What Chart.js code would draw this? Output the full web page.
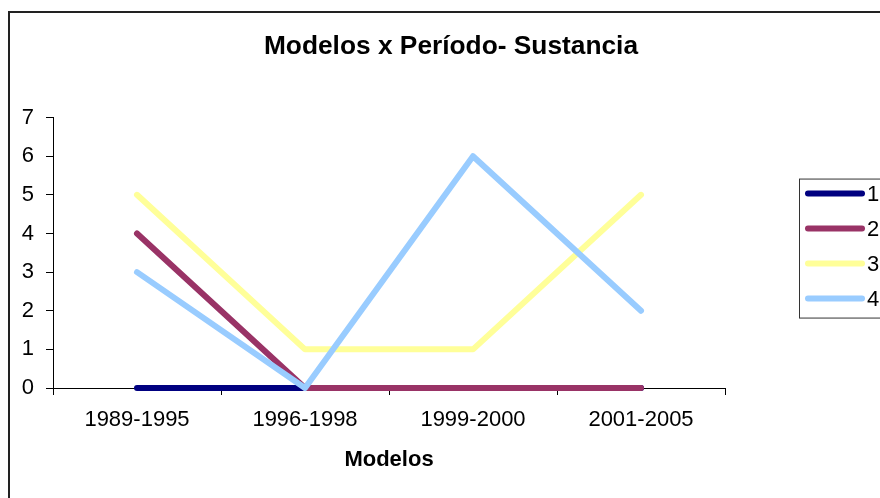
<!DOCTYPE html>
<html>
<head>
<meta charset="utf-8">
<script src="https://cdn.jsdelivr.net/npm/chart.js@4/dist/chart.umd.min.js"></script>
<style>
  body { margin: 0; background: #fff; }
  canvas { display: block; }
</style>
</head>
<body>
<canvas id="chart" width="880" height="498"></canvas>
<script>
const periodos = ['1989-1995', '1996-1998', '1999-2000', '2001-2005'];
const serieNames = ['1', '2', '3', '4'];
const serie1 = [0, 0, 0, 0];
const serie2 = [4, 0, 0, 0];
const serie3 = [5, 1, 1, 5];
const serie4 = [3, 0, 6, 2];
const serieColors = ['#000080', '#993366', '#FFFF99', '#99CCFF'];

const FONT = 'Arial, "Liberation Sans", sans-serif';

// outer frame of the chart (excel style)
let framePlugin = {
  id: 'frame',
  beforeDraw: function(chart) {
    const ctx = chart.ctx;
    ctx.save();
    ctx.strokeStyle = '#222';
    ctx.lineWidth = 2;
    ctx.strokeRect(9, 12, 1000, 1000);
    ctx.restore();
  }
};

// boxed legend on the right, drawn from the datasets
let boxLegend = {
  id: 'boxLegend',
  afterDraw: function(chart) {
    const ctx = chart.ctx;
    const area = chart.chartArea;
    const left = area.right + 74;
    const top = area.top + 61;
    const step = 35;
    const sets = chart.data.datasets;
    ctx.save();
    ctx.strokeStyle = '#333';
    ctx.lineWidth = 1;
    ctx.strokeRect(left + 0.5, top + 0.5, 200, sets.length * step - 1);
    ctx.font = '22px ' + FONT;
    ctx.textBaseline = 'middle';
    ctx.fillStyle = '#000';
    sets.forEach((ds, i) => {
      const y = top + 15 + i * step;
      ctx.strokeStyle = ds.borderColor;
      ctx.lineWidth = 6;
      ctx.lineCap = 'round';
      ctx.beginPath();
      ctx.moveTo(left + 9, y);
      ctx.lineTo(left + 63, y);
      ctx.stroke();
      ctx.fillText(ds.label, left + 68, y + 1);
    });
    ctx.restore();
  }
};

let makeSet = function(label, values, color, order) {
  return {
    label: label,
    data: values,
    borderColor: color,
    backgroundColor: color,
    borderWidth: 6,
    borderCapStyle: 'round',
    borderJoinStyle: 'round',
    pointRadius: 0,
    pointHoverRadius: 0,
    tension: 0,
    fill: false,
    clip: 8,
    order: order
  };
};

const config = {
  type: 'line',
  data: {
    labels: periodos,
    datasets: [
      makeSet(serieNames[0], serie1, serieColors[0], 4),
      makeSet(serieNames[1], serie2, serieColors[1], 3),
      makeSet(serieNames[2], serie3, serieColors[2], 2),
      makeSet(serieNames[3], serie4, serieColors[3], 1)
    ]
  },
  options: {
    responsive: false,
    animation: false,
    devicePixelRatio: 1,
    layout: { padding: { left: 22, right: 0, top: 0, bottom: 0 } },
    plugins: {
      legend: { display: false },
      tooltip: { enabled: false },
      title: {
        display: true,
        text: 'Modelos x Período- Sustancia',
        color: '#000',
        font: { family: FONT, size: 26.3, weight: 'bold' },
        padding: { top: 31, bottom: 55 }
      }
    },
    scales: {
      x: {
        type: 'category',
        offset: true,
        grid: { offset: true, drawOnChartArea: false, drawTicks: true, tickLength: 7, color: '#000' },
        border: { display: true, color: '#000', width: 1 },
        ticks: { color: '#000', font: { family: FONT, size: 22 }, padding: 12, maxRotation: 0 },
        title: {
          display: true,
          text: 'Modelos',
          color: '#000',
          font: { family: FONT, size: 22, weight: 'bold' },
          padding: { top: 25, bottom: 25 }
        },
        afterFit: function(s) { s.height = 110; }
      },
      y: {
        min: 0,
        max: 7,
        grid: { drawOnChartArea: false, drawTicks: true, tickLength: 7, color: '#000' },
        border: { display: true, color: '#000', width: 1 },
        ticks: { stepSize: 1, color: '#000', font: { family: FONT, size: 22 }, padding: 12 },
        afterFit: function(s) { s.width = 31; }
      },
      legendSpace: {
        type: 'linear',
        position: 'right',
        display: true,
        grid: { display: false },
        border: { display: false },
        ticks: { display: false },
        afterFit: function(s) { s.width = 155; }
      }
    }
  },
  plugins: [framePlugin, boxLegend]
};

const myChart = new Chart(document.getElementById('chart'), config);
</script>
</body>
</html>
